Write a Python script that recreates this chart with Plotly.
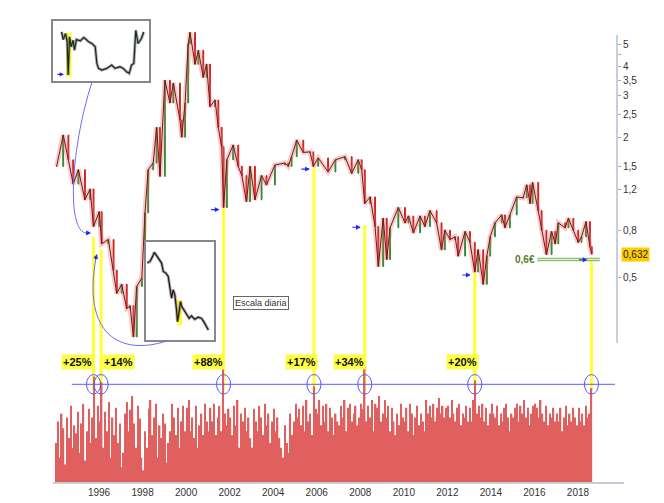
import numpy as np
import pandas as pd
import plotly.graph_objects as go

# ---------------- data ----------------
price_dates = [
    '1994-01-20', '1994-05-10', '1994-08-05', '1994-10-25', '1995-01-20', '1995-05-10', '1995-08-05',
    '1995-10-01', '1996-01-05', '1996-02-15', '1996-06-05', '1996-09-01', '1996-10-25', '1997-01-15',
    '1997-04-10', '1997-06-05', '1997-08-01', '1997-09-25', '1997-12-20', '1998-02-10', '1998-04-05',
    '1998-06-28', '1998-08-25', '1998-10-20', '1999-01-10', '1999-04-05', '1999-06-01', '1999-09-20',
    '1999-10-20', '1999-12-15', '2000-02-05', '2000-03-07', '2000-05-30', '2000-07-25', '2000-10-15',
    '2000-12-10', '2001-02-05', '2001-05-01', '2001-06-25', '2001-08-20', '2001-09-21', '2001-11-15',
    '2002-03-01', '2002-05-25', '2002-07-25', '2002-10-10', '2002-12-10', '2003-03-01', '2003-06-20',
    '2003-09-10', '2004-01-30', '2004-07-15', '2004-09-10', '2004-11-05', '2005-01-30', '2005-05-20',
    '2005-09-10', '2005-11-05', '2006-01-25', '2006-07-10', '2006-11-10', '2007-04-20', '2007-08-10',
    '2007-11-28', '2008-01-25', '2008-03-17', '2008-06-15', '2008-09-05', '2008-10-30', '2009-01-20',
    '2009-03-20', '2009-05-15', '2009-10-01', '2010-01-20', '2010-03-20', '2010-06-10', '2010-10-01',
    '2010-12-20', '2011-03-15', '2011-07-05', '2011-09-25', '2011-11-20', '2012-02-15', '2012-05-10',
    '2012-07-01', '2012-10-25', '2013-01-15', '2013-04-05', '2013-06-01', '2013-08-25', '2013-10-25',
    '2013-12-20', '2014-03-10', '2014-07-01', '2014-08-25', '2014-11-15', '2015-03-10', '2015-06-25',
    '2015-08-25', '2015-10-20', '2015-12-01', '2016-03-05', '2016-05-01', '2016-07-20', '2016-10-15',
    '2016-12-15', '2017-02-05', '2017-05-30', '2017-07-25', '2017-10-15', '2018-01-05', '2018-03-01',
    '2018-05-15', '2018-07-20', '2018-08-20']
price_close = [
    1.50, 2.04, 1.60, 1.26, 1.45, 1.08, 1.20,
    0.83, 0.96, 0.70, 0.73, 0.54, 0.43, 0.47,
    0.37, 0.38, 0.28, 0.46, 0.50, 0.95, 1.45,
    1.55, 2.20, 1.36, 3.50, 2.80, 3.40, 2.37,
    2.00, 2.80, 5.00, 5.60, 4.10, 4.70, 3.60,
    4.10, 2.70, 2.88, 2.20, 1.82, 1.00, 1.60,
    1.85, 1.50, 1.37, 1.06, 1.50, 1.08, 1.37,
    1.25, 1.52, 1.55, 1.50, 1.65, 1.94, 1.72,
    1.73, 1.50, 1.63, 1.42, 1.60, 1.65, 1.40,
    1.60, 1.45, 1.04, 1.11, 0.83, 0.56, 0.90,
    0.60, 0.82, 1.00, 0.86, 0.92, 0.78, 0.92,
    0.83, 0.97, 0.86, 0.66, 0.80, 0.73, 0.75,
    0.62, 0.79, 0.71, 0.53, 0.66, 0.47, 0.62,
    0.75, 0.86, 0.93, 0.82, 0.93, 1.11, 1.10,
    1.25, 1.04, 1.28, 0.97, 0.80, 0.63, 0.79,
    0.70, 0.86, 0.82, 0.90, 0.80, 0.71, 0.75,
    0.87, 0.68, 0.632]

volume_by_year = {
    1994: [40, 62, 25, 70, 55, 18, 66, 45, 78, 35, 58, 50],
    1995: [72, 30, 60, 80, 22, 52, 75, 40, 66, 108, 45, 78],
    1996: [62, 102, 35, 72, 52, 82, 25, 66, 48, 76, 40, 60],
    1997: [15, 30, 70, 82, 52, 74, 88, 60, 35, 78, 65, 25],
    1998: [12, 52, 35, 75, 84, 48, 66, 80, 25, 58, 45, 70],
    1999: [60, 20, 40, 52, 80, 66, 48, 76, 35, 62, 78, 52],
    2000: [76, 84, 52, 66, 45, 78, 35, 58, 70, 48, 80, 62],
    2001: [52, 76, 62, 80, 48, 66, 78, 52, 118, 70, 58, 75],
    2002: [66, 48, 78, 58, 84, 35, 70, 62, 76, 52, 66, 45],
    2003: [35, 75, 62, 52, 78, 66, 48, 80, 58, 70, 40, 62],
    2004: [75, 52, 66, 45, 35, 25, 58, 40, 30, 70, 48, 62],
    2005: [80, 66, 75, 58, 78, 52, 84, 62, 70, 48, 98, 75],
    2006: [70, 84, 58, 78, 62, 80, 52, 76, 66, 48, 70, 62],
    2007: [58, 78, 66, 84, 52, 76, 80, 62, 70, 78, 58, 66],
    2008: [80, 75, 118, 62, 78, 66, 84, 52, 80, 76, 88, 62],
    2009: [70, 84, 66, 78, 52, 76, 62, 48, 70, 58, 80, 66],
    2010: [62, 76, 52, 80, 70, 48, 66, 78, 58, 70, 62, 52],
    2011: [84, 70, 78, 66, 80, 62, 76, 86, 70, 78, 66, 76],
    2012: [78, 66, 84, 70, 62, 76, 80, 58, 70, 66, 78, 62],
    2013: [76, 62, 84, 104, 70, 78, 66, 80, 62, 76, 58, 70],
    2014: [80, 70, 66, 78, 58, 70, 62, 76, 80, 66, 52, 70],
    2015: [66, 76, 80, 62, 78, 70, 84, 66, 76, 58, 70, 78],
    2016: [80, 76, 66, 84, 70, 62, 78, 58, 70, 66, 76, 62],
    2017: [70, 62, 76, 52, 66, 78, 58, 70, 62, 76, 66, 58],
    2018: [76, 62, 70, 58, 78, 66, 70, 96],
}
volume_threshold = 100

event_dates = ['1995-10-01', '1996-02-05', '2001-09-21', '2005-11-15', '2008-03-17', '2013-04-05', '2018-08-15']
event_lows = [0.75, 0.66, 1.00, 1.49, 0.84, 0.525, 0.61]
event_labels = ['+25%', '+14%', '+88%', '+17%', '+34%', '+20%', '']

support_price = 0.6
support_label = '0,6€'
last_price = 0.632
last_label = '0,632'

price_tick_vals = [0.5, 0.8, 1.2, 1.5, 2, 2.5, 3, 3.5, 4, 4.5, 5]
price_tick_text = ['0,5', '0,8', '1,2', '1,5', '2', '2,5', '3', '3,5', '4', '', '5']
year_ticks = list(range(1996, 2019, 2))

# daily-scale insets (index, value)
inset1_t = [183, 188, 195, 200, 203, 207, 212, 218, 222, 228, 240, 250, 258, 265, 275, 285, 290, 295,
            305, 320, 335, 345, 360, 370, 380, 388, 395, 402, 408, 415, 425, 432]
inset1_v = [14.8, 12.5, 14.3, 11.8, 1.8, 13.3, 10.3, 12.3, 9.3, 12.5, 12.1, 13.1, 12.5, 11.8, 11.3, 10.3,
            5.3, 3.8, 3.3, 3.8, 4.8, 3.8, 4.3, 3.8, 2.8, 2.3, 4.8, 5.3, 15.3, 11.3, 12.8, 14.8]
inset2_t = [52, 60, 68, 73, 80, 88, 95, 100, 108, 115, 120, 125, 130, 135, 140, 143, 148, 152, 156,
            162, 170, 178, 185, 195, 205, 215, 222, 230, 236]
inset2_v = [23, 23.5, 25, 26.2, 25.2, 24, 23, 20.5, 20, 19, 15.5, 12.5, 15, 13.5, 9, 5.5, 8.5, 11.5,
            10, 9, 7.5, 6.5, 7.2, 6.2, 6.8, 6.5, 5.5, 4, 3]

# ---------------- figure ----------------
FONT = 'Liberation Sans, Arial, sans-serif'
PAGE_OFF = 8                       # default body margin of the html page
W, H = 664 - PAGE_OFF, 503 - PAGE_OFF
X0, X1, Y0, Y1 = 53, 624, 20, 482  # plot area in screen pixels
ML, MR = X0 - PAGE_OFF, 664 - X1
MT, MB = Y0 - PAGE_OFF, 503 - Y1
PW, PH = X1 - X0, Y1 - Y0


def px(x):
    return (x - X0) / PW


def py(y):
    return (Y1 - y) / PH


fig = go.Figure()

dates = pd.to_datetime(price_dates)
close = np.array(price_close)
opens = np.concatenate([[close[0]], close[:-1]])

# yellow event lines (drawn first, under candles)
yellow_bottom = 0.165
for d, lo in zip(event_dates, event_lows):
    fig.add_trace(go.Scatter(x=[d, d], y=[lo, yellow_bottom], mode='lines',
                             line=dict(color='#ffff33', width=3), hoverinfo='skip',
                             showlegend=False, xaxis='x', yaxis='y'))

# price band
fig.add_trace(go.Scatter(x=dates, y=close, mode='lines',
                         line=dict(color='rgba(225,110,110,0.35)', width=5),
                         showlegend=False, xaxis='x', yaxis='y', hoverinfo='skip'))
fig.add_trace(go.Scatter(x=dates, y=close, mode='lines',
                         line=dict(color='#7a1515', width=1),
                         showlegend=False, xaxis='x', yaxis='y'))
fig.add_trace(go.Candlestick(x=dates, open=opens, close=close,
                             high=np.maximum(opens, close), low=np.minimum(opens, close),
                             increasing=dict(line=dict(color='#2f8a2f', width=1), fillcolor='#2f8a2f'),
                             decreasing=dict(line=dict(color='#d02020', width=1), fillcolor='#d02020'),
                             whiskerwidth=0, showlegend=False, xaxis='x', yaxis='y'))

# volume
vol = [v for y in sorted(volume_by_year) for v in volume_by_year[y]]
vol_dates = pd.date_range('1994-01-01', periods=len(vol), freq='MS') + pd.Timedelta(days=14)
fig.add_trace(go.Bar(x=vol_dates, y=vol, marker=dict(color='#e06060', line=dict(width=0)),
                     showlegend=False, xaxis='x', yaxis='y2'))

# support line 0,6
for col, wd in (('#8cbf6a', 3.5), ('#e8f4e0', 1)):
    fig.add_trace(go.Scatter(x=['2016-02-20', '2019-01-01'], y=[support_price, support_price], mode='lines',
                             line=dict(color=col, width=wd), showlegend=False, xaxis='x', yaxis='y',
                             hoverinfo='skip'))

# insets
for t, v, ax, ay, col in ((inset1_t, inset1_v, 'x3', 'y3', '#1c2a1c'), (inset2_t, inset2_v, 'x4', 'y4', '#2a1414')):
    fig.add_trace(go.Scatter(x=t, y=v, mode='lines', line=dict(color='rgba(110,110,110,0.6)', width=3),
                             showlegend=False, xaxis=ax, yaxis=ay, hoverinfo='skip'))
    fig.add_trace(go.Scatter(x=t, y=v, mode='lines', line=dict(color=col, width=1.2),
                             showlegend=False, xaxis=ax, yaxis=ay))

shapes = []
annotations = []

# inset yellow highlights
shapes.append(dict(type='rect', xref='x3', yref='y3', x0=197, x1=213, y0=1.3, y1=14.6,
                   fillcolor='#ffff33', line=dict(width=0), layer='below'))
shapes.append(dict(type='rect', xref='x4', yref='y4', x0=140, x1=157, y0=4.5, y1=12,
                   fillcolor='#ffff33', line=dict(width=0), layer='below'))

# blue threshold line
shapes.append(dict(type='line', xref='x', yref='y2', x0='1994-10-01', x1='2019-09-15',
                   y0=volume_threshold, y1=volume_threshold, line=dict(color='#5a5aff', width=1)))

# circles
half = pd.Timedelta(days=118)
for d in event_dates:
    t = pd.Timestamp(d)
    shapes.append(dict(type='circle', xref='x', yref='y2', x0=t - half, x1=t + half,
                       y0=volume_threshold - 10, y1=volume_threshold + 10,
                       line=dict(color='#5a5aff', width=1)))

# percent labels
label_anchor = ['right', 'left', 'right', 'right', 'right', 'right']
label_shift = [0, 1, 1, 4, 1, 4]
for d, lab, anc, sh in zip(event_dates, event_labels, label_anchor, label_shift):
    if not lab:
        continue
    annotations.append(dict(x=d, y=py(362), xref='x', yref='paper', text='<b>' + lab + '</b>',
                            showarrow=False, xanchor=anc, yanchor='middle', xshift=sh,
                            bgcolor='#ffff44', borderpad=1,
                            font=dict(family=FONT, size=11, color='#111')))

# blue arrows at lows
for d, lo in list(zip(event_dates, event_lows))[2:]:
    annotations.append(dict(x=d, y=np.log10(lo), xref='x', yref='y', text='', showarrow=True,
                            ax=-10, ay=0, xshift=-4, yshift=-2, arrowhead=2, arrowsize=0.8,
                            arrowwidth=1.2, arrowcolor='#2323ff'))


def bez(p):
    (x0, y0), (x1, y1), (x2, y2), (x3, y3) = p
    return (f'M {px(x0):.4f},{py(y0):.4f} C {px(x1):.4f},{py(y1):.4f} '
            f'{px(x2):.4f},{py(y2):.4f} {px(x3):.4f},{py(y3):.4f}')


shapes.append(dict(type='path', xref='paper', yref='paper',
                   path=bez([(92, 82), (70, 150), (66, 236), (88, 233)]),
                   line=dict(color='#6b6bff', width=1)))
shapes.append(dict(type='path', xref='paper', yref='paper',
                   path=bez([(167, 341), (120, 356), (82, 335), (96, 258)]),
                   line=dict(color='#6b6bff', width=1)))
annotations.append(dict(x=px(91), y=py(233), xref='paper', yref='paper', text='', showarrow=True,
                        ax=-6, ay=0, arrowhead=2, arrowsize=0.8, arrowwidth=1.2, arrowcolor='#2323ff'))
annotations.append(dict(x=px(97), y=py(254), xref='paper', yref='paper', text='', showarrow=True,
                        ax=-2, ay=7, arrowhead=2, arrowsize=0.8, arrowwidth=1.2, arrowcolor='#2323ff'))
annotations.append(dict(x=190, y=2.0, xref='x3', yref='y3', text='', showarrow=True,
                        ax=-8, ay=0, arrowhead=2, arrowsize=0.7, arrowwidth=1.2, arrowcolor='#2323ff'))

# right axis line
shapes.append(dict(type='line', xref='paper', yref='paper', x0=px(617), x1=px(617), y0=py(343), y1=py(35),
                   line=dict(color='#c9ced8', width=2)))

# text labels
annotations.append(dict(x=px(261), y=py(303), xref='paper', yref='paper', text='Escala diaria',
                        showarrow=False, bordercolor='#666', borderwidth=1, borderpad=1, bgcolor='white',
                        font=dict(family=FONT, size=9, color='#333')))
annotations.append(dict(x='2016-02-10', y=np.log10(support_price), xref='x', yref='y',
                        text='<b>' + support_label + '</b>', showarrow=False, xanchor='right', yanchor='middle',
                        font=dict(family=FONT, size=10, color='#4f7f2c')))
annotations.append(dict(x=px(621), y=np.log10(last_price), xref='paper', yref='y', text=last_label,
                        showarrow=False, xanchor='left', yanchor='middle', bgcolor='#ffcc00', borderpad=1,
                        font=dict(family=FONT, size=10, color='#222')))

y_lo = np.log10(0.0671)
y_hi = np.log10(6.335)

axis_off = dict(showticklabels=False, ticks='', showgrid=False, zeroline=False, automargin=False,
                showline=True, mirror=True, linecolor='#888', linewidth=1.5)

fig.update_layout(
    width=W, height=H, margin=dict(l=ML, r=MR, t=MT, b=MB, autoexpand=False),
    paper_bgcolor='white', plot_bgcolor='rgba(0,0,0,0)',
    showlegend=False, bargap=0.15,
    font=dict(family=FONT, size=10, color='#333'),
    xaxis=dict(type='date', range=['1993-11-20', '2020-02-12'], domain=[0, 1], anchor='y2',
               tickvals=[f'{y}-01-01' for y in year_ticks], ticktext=[str(y) for y in year_ticks],
               showline=True, linecolor='#c5ccd5', linewidth=2, ticks='', showgrid=False, zeroline=False,
               automargin=False, rangeslider=dict(visible=False), tickfont=dict(size=10, color='#333')),
    yaxis=dict(type='log', range=[y_lo, y_hi], domain=[0, 1], side='right', anchor='free',
               position=px(617), tickvals=price_tick_vals, ticktext=price_tick_text,
               ticks='outside', ticklen=3, tickcolor='#aaa', showline=False, showgrid=False,
               zeroline=False, automargin=False, tickfont=dict(size=10, color='#333')),
    yaxis2=dict(domain=[0, py(355)], range=[0, 130], visible=False, anchor='x', automargin=False),
    xaxis3=dict(domain=[0, px(149)], range=[157, 448], anchor='y3', **axis_off),
    yaxis3=dict(domain=[py(81), py(21)], range=[0, 18.1], anchor='x3', **axis_off),
    xaxis4=dict(domain=[px(146), px(214)], range=[48, 253], anchor='y4', **axis_off),
    yaxis4=dict(domain=[py(340), py(242)], range=[0, 29.3], anchor='x4', **axis_off),
    shapes=shapes, annotations=annotations,
)

fig.write_html('out.html')
